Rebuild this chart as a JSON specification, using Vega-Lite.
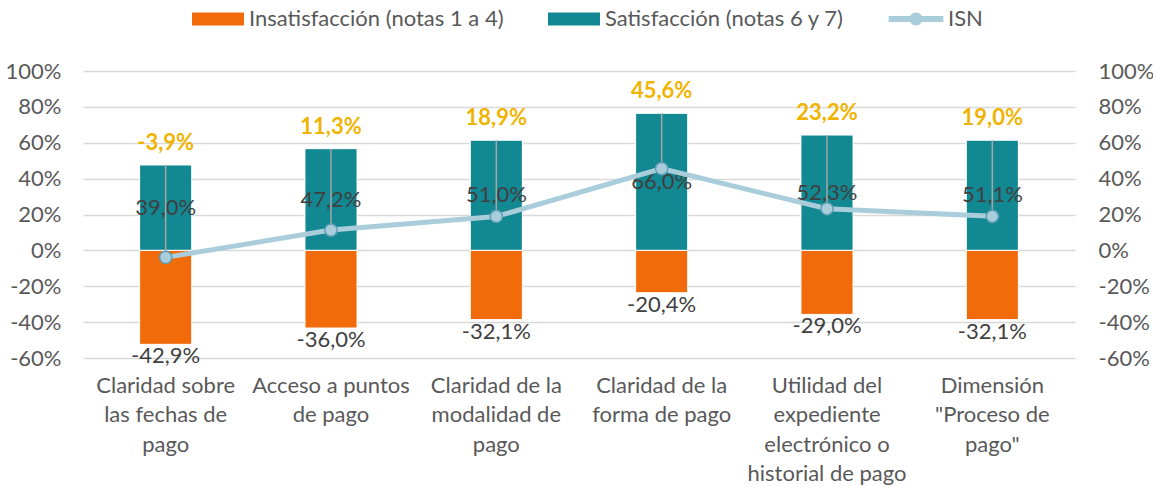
{
  "$schema": "https://vega.github.io/schema/vega-lite/v6.json",
  "width": 992,
  "height": 287,
  "autosize": "none",
  "padding": {"left": 83, "top": 71, "right": 78, "bottom": 129},
  "background": "white",
  "config": {
    "font": "Lato",
    "view": {"stroke": null},
    "locale": {"number": {"decimal": ",", "thousands": ".", "grouping": [3], "currency": ["", " €"], "minus": "-"}},
    "axis": {"labelFont": "Lato", "labelFontSize": 22, "labelColor": "#595959", "ticks": false, "domain": false, "title": null},
    "legend": {"labelFont": "Lato", "labelFontSize": 22, "labelColor": "#595959", "title": null, "labelLimit": 0}
  },
  "data": {
    "values": [
      {"cat": "Claridad sobre|las fechas de|pago", "sat": 0.390, "insat": -0.429, "isn": -0.039, "sat_bar": 0.476, "insat_bar": -0.524},
      {"cat": "Acceso a puntos|de pago", "sat": 0.472, "insat": -0.360, "isn": 0.113, "sat_bar": 0.567, "insat_bar": -0.433},
      {"cat": "Claridad de la|modalidad de|pago", "sat": 0.510, "insat": -0.321, "isn": 0.189, "sat_bar": 0.614, "insat_bar": -0.386},
      {"cat": "Claridad de la|forma de pago", "sat": 0.660, "insat": -0.204, "isn": 0.456, "sat_bar": 0.764, "insat_bar": -0.236},
      {"cat": "Utilidad del|expediente|electrónico o|historial de pago", "sat": 0.523, "insat": -0.290, "isn": 0.232, "sat_bar": 0.643, "insat_bar": -0.357},
      {"cat": "Dimensión|\"Proceso de|pago\"", "sat": 0.511, "insat": -0.321, "isn": 0.190, "sat_bar": 0.614, "insat_bar": -0.386}
    ]
  },
  "encoding": {
    "x": {
      "field": "cat", "type": "nominal", "sort": null,
      "scale": {"paddingInner": 0, "paddingOuter": 0},
      "axis": {"labelAngle": 0, "labelExpr": "split(datum.label, '|')", "labelLineHeight": 29.5, "labelPadding": 17, "labelBaseline": "top", "labelLimit": 0, "grid": false}
    }
  },
  "layer": [
    {
      "mark": {"type": "bar", "width": {"band": 0.315}, "stroke": "white", "strokeWidth": 1},
      "encoding": {
        "y": {"field": "sat_bar", "type": "quantitative", "scale": {"domain": [-0.6, 1], "nice": false, "zero": false},
              "axis": {"orient": "left", "format": ".0%", "values": [-0.6, -0.4, -0.2, 0, 0.2, 0.4, 0.6, 0.8, 1], "grid": true, "gridColor": "#D9D9D9", "gridWidth": 1.3, "labelPadding": 22}},
        "color": {"datum": "Satisfacción (notas 6 y 7)", "type": "nominal",
                  "scale": {"domain": ["Insatisfacción (notas 1 a 4)", "Satisfacción (notas 6 y 7)"], "range": ["#F26B0B", "#128892"]},
                  "legend": {"orient": "none", "direction": "horizontal", "legendX": 122, "legendY": -65,
                             "symbolType": "M-2,-0.5H2V0.5H-2Z", "symbolSize": 676, "symbolStrokeWidth": 0,
                             "labelOffset": 18, "columnPadding": 44}}
      }
    },
    {
      "mark": {"type": "bar", "width": {"band": 0.315}, "stroke": "white", "strokeWidth": 1},
      "encoding": {
        "y": {"field": "insat_bar", "type": "quantitative", "scale": {"domain": [-0.6, 1], "nice": false, "zero": false},
              "axis": {"orient": "right", "format": ".0%", "values": [-0.6, -0.4, -0.2, 0, 0.2, 0.4, 0.6, 0.8, 1], "grid": false, "labelPadding": 23}},
        "color": {"datum": "Insatisfacción (notas 1 a 4)", "type": "nominal"}
      }
    },
    {
      "mark": {"type": "text", "fontSize": 22, "color": "#404040", "baseline": "middle"},
      "encoding": {
        "y": {"field": "sat_bar", "type": "quantitative", "scale": {"domain": [-1.2, 2.0], "nice": false, "zero": false}, "axis": null},
        "text": {"field": "sat", "type": "quantitative", "format": ".1%"}
      }
    },
    {
      "mark": {"type": "text", "fontSize": 22, "color": "#404040", "baseline": "top", "dy": 2},
      "encoding": {
        "y": {"field": "insat_bar", "type": "quantitative", "scale": {"domain": [-0.6, 1], "nice": false, "zero": false}, "axis": null},
        "text": {"field": "insat", "type": "quantitative", "format": ".1%"}
      }
    },
    {
      "mark": {"type": "rule", "color": "#A6A6A6", "strokeWidth": 1.5},
      "encoding": {
        "y": {"field": "sat_bar", "type": "quantitative", "scale": {"domain": [-0.6, 1], "nice": false, "zero": false}, "axis": null},
        "y2": {"field": "isn"}
      }
    },
    {
      "mark": {"type": "line", "color": "#A9CDDB", "strokeWidth": 5},
      "encoding": {
        "y": {"field": "isn", "type": "quantitative", "scale": {"domain": [-0.6, 1], "nice": false, "zero": false}, "axis": null}
      }
    },
    {
      "mark": {"type": "point", "shape": "circle", "filled": true, "size": 150, "stroke": "#5E9DB3", "strokeWidth": 1.5, "opacity": 1},
      "encoding": {
        "y": {"field": "isn", "type": "quantitative", "scale": {"domain": [-0.6, 1], "nice": false, "zero": false}, "axis": null},
        "fill": {"datum": "ISN", "type": "nominal", "scale": {"domain": ["ISN"], "range": ["#A9CDDB"]},
                 "legend": {"orient": "none", "direction": "horizontal", "legendX": 820, "legendY": -65,
                            "symbolType": "M-2.1,-0.23H2.1V0.23H-2.1Z M0.5,0A0.5,0.5 0 1,1 -0.5,0A0.5,0.5 0 1,1 0.5,0Z",
                            "symbolSize": 676, "symbolStrokeWidth": 0, "labelOffset": 19}}
      }
    },
    {
      "mark": {"type": "text", "fontSize": 22, "fontWeight": "bold", "color": "#F0B400", "baseline": "bottom", "dy": -10},
      "encoding": {
        "y": {"field": "sat_bar", "type": "quantitative", "scale": {"domain": [-0.6, 1], "nice": false, "zero": false}, "axis": null},
        "text": {"field": "isn", "type": "quantitative", "format": ".1%"}
      }
    }
  ],
  "resolve": {"scale": {"y": "independent"}}
}
